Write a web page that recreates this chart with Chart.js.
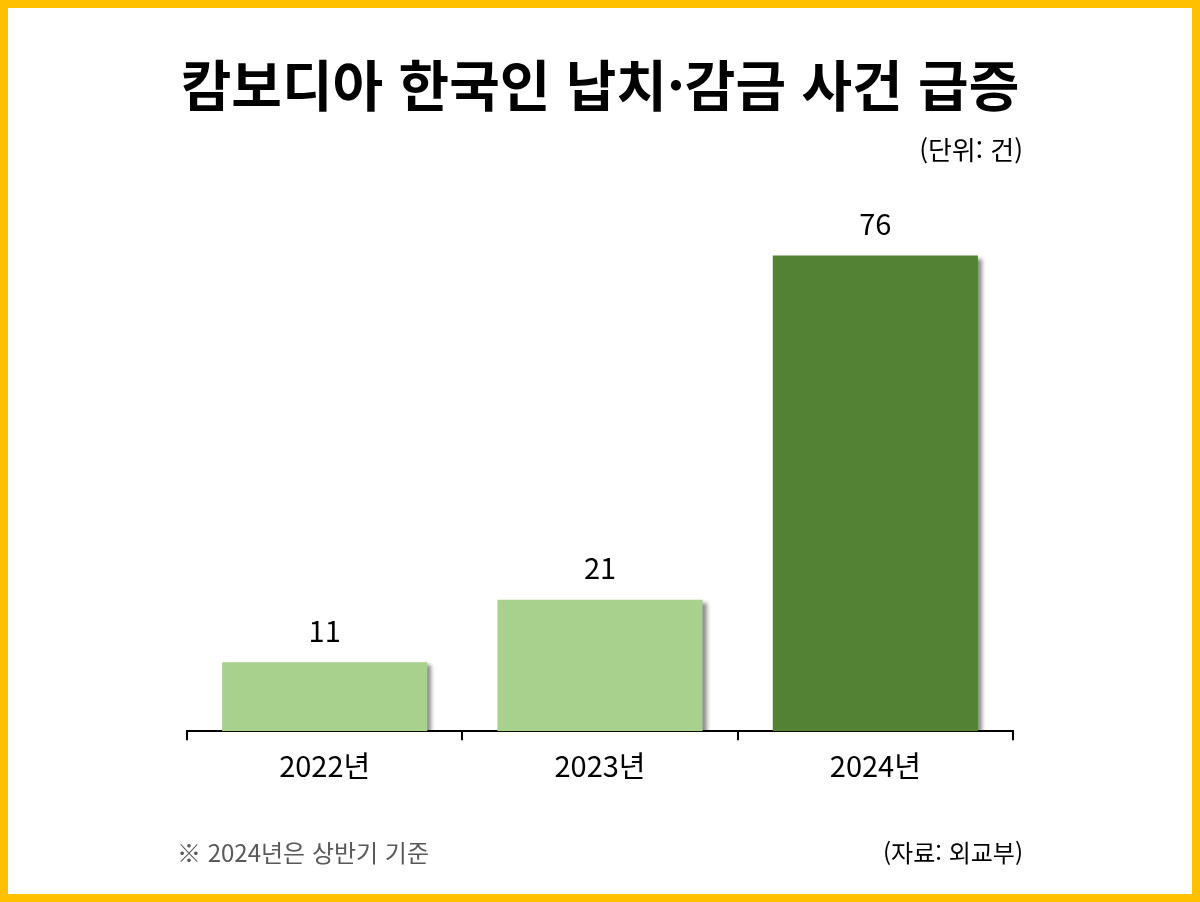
<!DOCTYPE html>
<html lang="ko">
<head>
<meta charset="utf-8">
<script src="https://cdn.jsdelivr.net/npm/chart.js@4"></script>
<style>
    html, body { margin: 0; padding: 0; background: #fff; }
    #frame {
        position: relative;
        width: 1200px; height: 902px;
        box-sizing: border-box;
        border: 8px solid #FFC000;
        font-family: "Noto Sans CJK KR", "Noto Sans", sans-serif;
        overflow: hidden;
    }
    #myChart { position: absolute; left: -8px; top: -8px; }
    .title {
        position: absolute; left: 0; right: 0; top: 34px;
        text-align: center; font-size: 55px; font-weight: 700; color: #000;
        margin-left: -8px; margin-right: -8px;
    }
    .unit { position: absolute; right: 169px; top: 122px; font-size: 26px; color: #000; }
    .note { position: absolute; left: 169px; top: 826px; font-size: 24px; color: #595959; }
    .source { position: absolute; right: 169px; top: 826px; font-size: 24px; color: #000; }
</style>
</head>
<body>
<div id="frame">
    <canvas id="myChart" width="1200" height="902"></canvas>
    <div class="title">캄보디아 한국인 납치·감금 사건 급증</div>
    <div class="unit">(단위: 건)</div>
    <div class="note">※ 2024년은 상반기 기준</div>
    <div class="source">(자료: 외교부)</div>
</div>
<script>
// data
const years = ['2022년', '2023년', '2024년'];
const cases = [11, 21, 76];
const bar_colors = ['#A9D18E', '#A9D18E', '#548235'];

const font_family = '"Noto Sans CJK KR", "Noto Sans", sans-serif';

// drop shadow on the bars
const bar_shadow = {
    id: 'bar_shadow',
    beforeDatasetsDraw(chart) {
        const ctx = chart.ctx;
        ctx.save();
        ctx.shadowColor = 'rgba(0, 0, 0, 0.45)';
        ctx.shadowBlur = 4;
        ctx.shadowOffsetX = 4;
        ctx.shadowOffsetY = 3;
    },
    afterDatasetsDraw(chart) {
        chart.ctx.restore();
    }
};

// value labels above bars
const value_labels = {
    id: 'value_labels',
    afterDatasetsDraw(chart) {
        const ctx = chart.ctx;
        const meta = chart.getDatasetMeta(0);
        ctx.save();
        ctx.font = '29px ' + font_family;
        ctx.fillStyle = '#000';
        ctx.textAlign = 'center';
        ctx.textBaseline = 'bottom';
        meta.data.forEach((bar, i) => {
            ctx.fillText(String(cases[i]), bar.x, bar.y - 17);
        });
        ctx.restore();
    }
};

const config = {
    type: 'bar',
    data: {
        labels: years,
        datasets: [{
            data: cases,
            backgroundColor: bar_colors,
            borderWidth: 0,
            barPercentage: 0.745,
            categoryPercentage: 1.0,
        }]
    },
    options: {
        responsive: false,
        animation: false,
        layout: {
            padding: { top: 168, left: 187, right: 187, bottom: 111 }
        },
        plugins: {
            legend: { display: false },
            tooltip: { enabled: false },
            title: { display: false }
        },
        scales: {
            x: {
                offset: true,
                grid: {
                    offset: true,
                    drawOnChartArea: false,
                    drawTicks: true,
                    tickLength: 9,
                    tickWidth: 2,
                    tickColor: '#000',
                    color: '#000',
                    lineWidth: 2
                },
                border: { display: true, color: '#000', width: 2 },
                ticks: {
                    color: '#000',
                    padding: 8,
                    font: { family: font_family, size: 29 }
                }
            },
            y: {
                display: false,
                min: 0,
                max: 90
            }
        }
    },
    plugins: [bar_shadow, value_labels]
};

new Chart(document.getElementById('myChart'), config);
</script>
</body>
</html>
